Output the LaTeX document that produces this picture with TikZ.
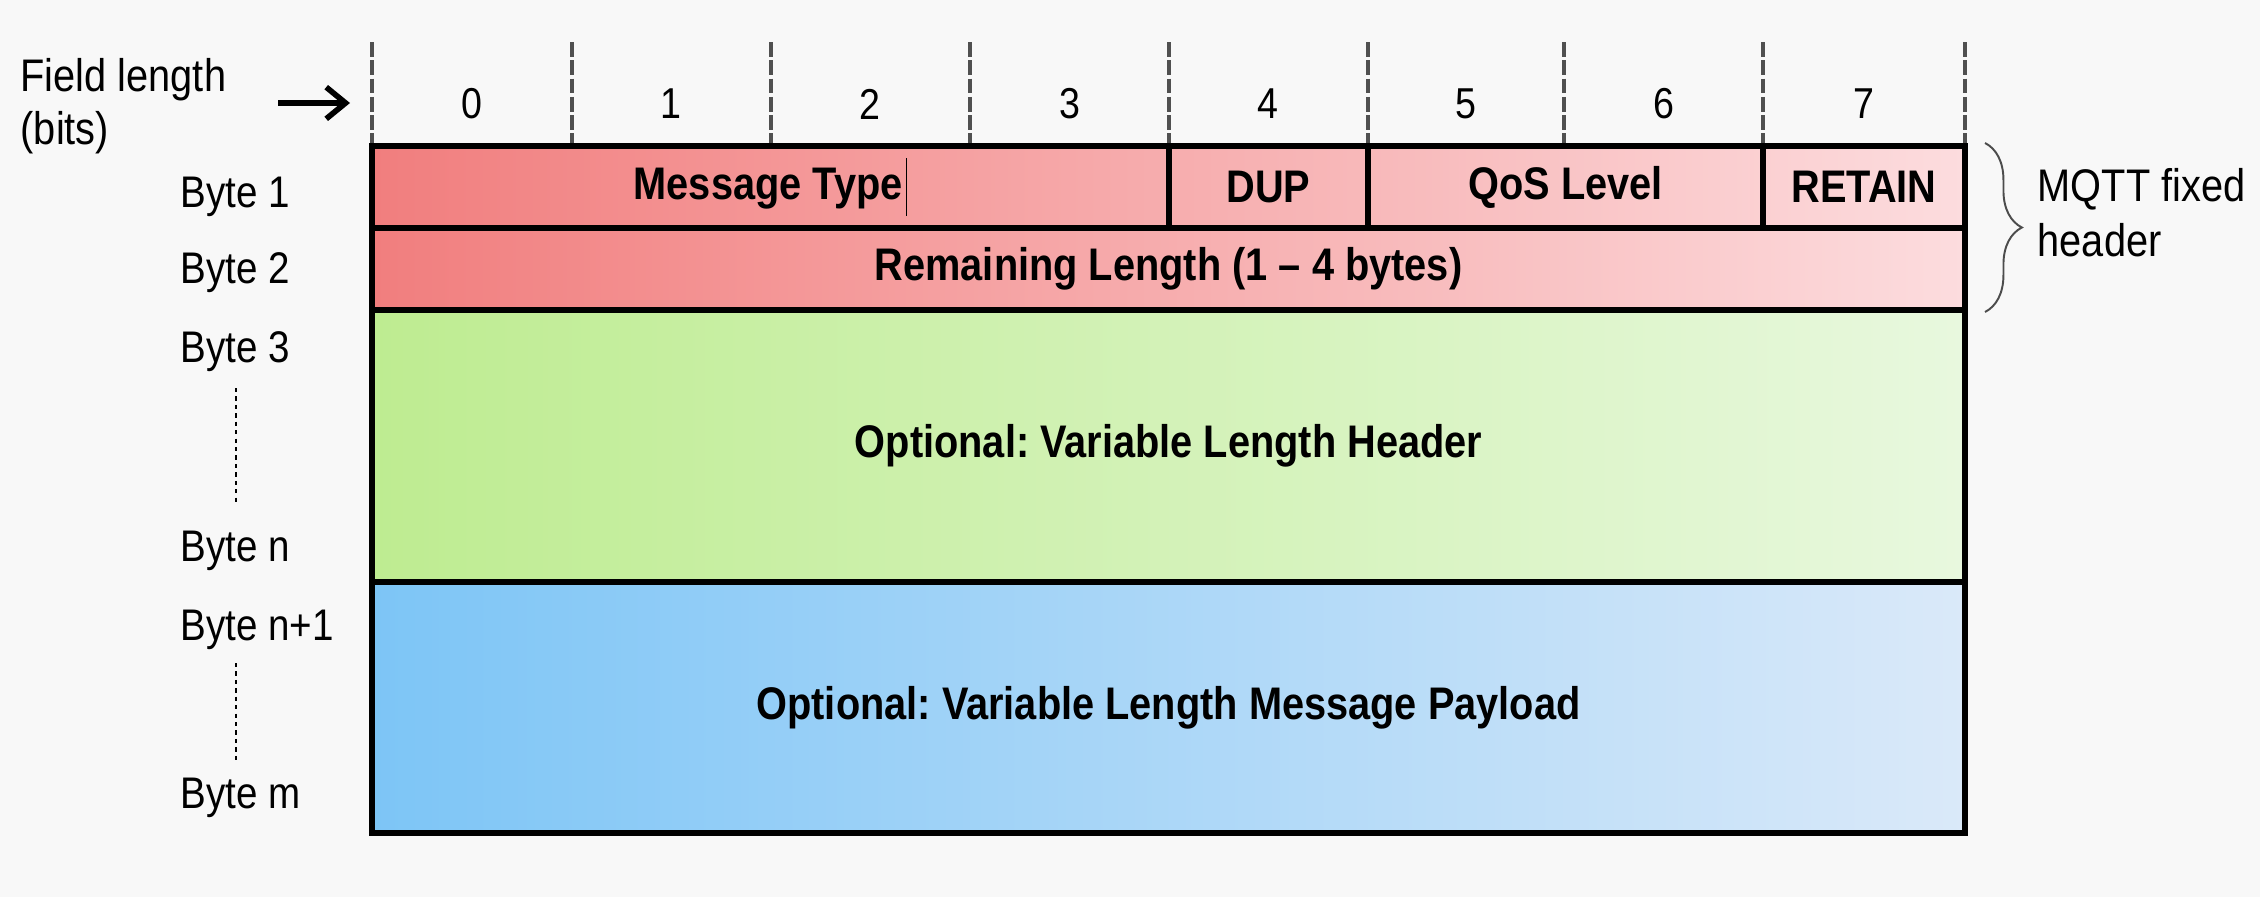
\documentclass[tikz,border=0pt]{standalone}
\usepackage{fontspec}
\setmainfont{Liberation Sans}[FakeStretch=0.87]
\usetikzlibrary{arrows.meta,decorations.pathreplacing}
\frenchspacing
\definecolor{bg}{RGB}{248,248,248}
\definecolor{redL}{RGB}{241,126,126}
\definecolor{redR}{RGB}{252,220,222}
\definecolor{greenL}{RGB}{190,236,145}
\definecolor{greenR}{RGB}{232,248,222}
\definecolor{blueL}{RGB}{125,197,246}
\definecolor{blueR}{RGB}{218,233,249}
\definecolor{bitgray}{RGB}{80,80,80}
\begin{document}
\begin{tikzpicture}[x=0.1mm,y=-0.1mm,
  field/.style={draw=black,line width=1.5pt,inner sep=0pt,outer sep=0pt,
    font=\fontsize{13}{15}\selectfont\bfseries},
  bitline/.style={draw=bitgray,line width=0.95pt,dash pattern=on 4.2pt off 1.0pt},
  bitnum/.style={inner sep=0pt,font=\fontsize{12.3}{14}\selectfont},
  bytelbl/.style={anchor=base west,inner sep=0pt,font=\fontsize{12.6}{15}\selectfont},
  dotline/.style={draw=black,line width=0.8pt,dash pattern=on 1.2pt off 1.2pt},
  sidetext/.style={inner sep=0pt,align=left,anchor=north west}
]
\fill[bg] (0,0) rectangle (2260,897);
\useasboundingbox (0,0) rectangle (2260,897);

% bit markers
\foreach \x in {372,572,771,970,1169,1368,1564,1763,1965}
  \draw[bitline] (\x,42) -- (\x,146);
\foreach \x/\n in {472/0,671/1,870/2,1070/3,1268/4,1466/5,1664/6,1864/7}
  \node[bitnum] (bit\n) at (\x,104) {\n};

% Field length label and arrow
\node[sidetext,font=\fontsize{13}{15}\selectfont] (flen) at (20,58) {Field length\\(bits)};
\coordinate (arrS) at (278,103);
\coordinate (arrE) at (350,103);
\draw[line width=1.8pt,-{Straight Barb[length=5.5pt,width=9pt,line width=1.6pt]}] (arrS) -- (arrE);

% gradients
\shade[left color=redL,right color=redR] (372,146) rectangle (1965,310);
\shade[left color=greenL,right color=greenR] (372,310) rectangle (1965,582);
\shade[left color=blueL,right color=blueR] (372,582) rectangle (1965,833);

% fields
\node[field,minimum width=79.7mm,minimum height=8.2mm] (mtype) at (770.5,187)
  {Message Type\kern1pt\rule[-0.35em]{0.35pt}{1.25em}};
\node[field,minimum width=19.9mm,minimum height=8.2mm] (dup) at (1268.5,187) {DUP};
\node[field,minimum width=39.5mm,minimum height=8.2mm] (qos) at (1565.5,187) {QoS Level};
\node[field,minimum width=20.2mm,minimum height=8.2mm] (retain) at (1864,187) {RETAIN};
\node[field,minimum width=159.3mm,minimum height=8.2mm] (remlen) at (1168.5,269)
  {Remaining Length (1 – 4 bytes)};
\node[field,minimum width=159.3mm,minimum height=27.2mm] (varhdr) at (1168.5,446)
  {Optional: Variable Length Header};
\node[field,minimum width=159.3mm,minimum height=25.1mm] (payload) at (1168.5,707.5)
  {Optional: Variable Length Message Payload};

% byte labels
\node[bytelbl] (b1) at (180,207) {Byte 1};
\node[bytelbl] (b2) at (180,283) {Byte 2};
\node[bytelbl] (b3) at (180,362) {Byte 3};
\node[bytelbl] (bn) at (180,561) {Byte n};
\node[bytelbl] (bn1) at (180,640) {Byte n+1};
\node[bytelbl] (bm) at (180,808) {Byte m};
\coordinate (d1a) at (236,388);
\coordinate (d1b) at (236,503);
\coordinate (d2a) at (236,663);
\coordinate (d2b) at (236,764);
\draw[dotline] (d1a) -- (d1b);
\draw[dotline] (d2a) -- (d2b);

% brace
\coordinate (brT) at (1985,143);
\coordinate (brB) at (1985,312);
\draw[draw=black!70,line width=0.55pt,decorate,decoration={brace,amplitude=10.5pt}] (brT) -- (brB);
\node[sidetext,font=\fontsize{13}{15.5}\selectfont] (mqtt) at (2037,168) {MQTT fixed\\header};
\end{tikzpicture}
\end{document}
